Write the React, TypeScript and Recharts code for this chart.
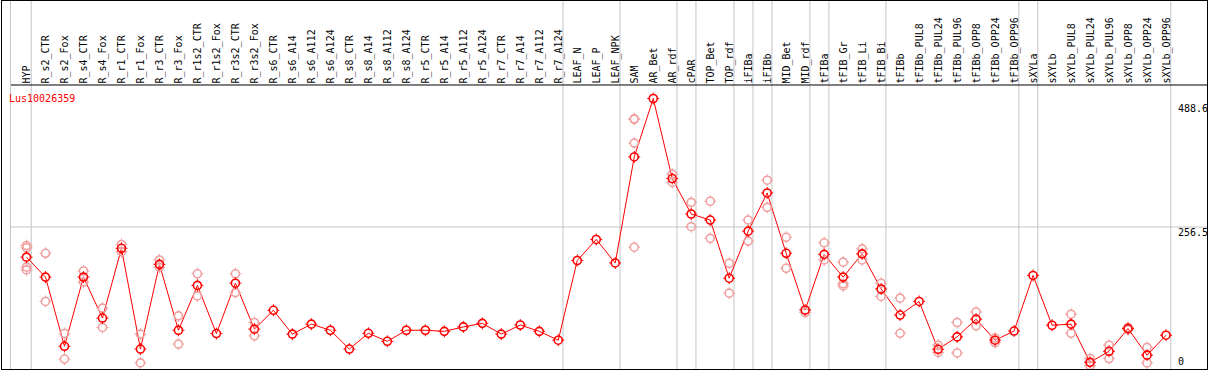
import React from 'react';
import { ComposedChart, Line, XAxis, YAxis, ReferenceLine } from 'recharts';

// tissue / condition labels, left to right
const categories = [
  'HYP', 'R_s2_CTR', 'R_s2_Fox', 'R_s4_CTR', 'R_s4_Fox', 'R_r1_CTR', 'R_r1_Fox', 'R_r3_CTR', 'R_r3_Fox',
  'R_r1s2_CTR', 'R_r1s2_Fox', 'R_r3s2_CTR', 'R_r3s2_Fox', 'R_s6_CTR', 'R_s6_A14', 'R_s6_A112', 'R_s6_A124',
  'R_s8_CTR', 'R_s8_A14', 'R_s8_A112', 'R_s8_A124', 'R_r5_CTR', 'R_r5_A14', 'R_r5_A112', 'R_r5_A124',
  'R_r7_CTR', 'R_r7_A14', 'R_r7_A112', 'R_r7_A124', 'LEAF_N', 'LEAF_P', 'LEAF_NPK', 'SAM', 'AR_Bet', 'AR_rdf',
  'cPAR', 'TOP_Bet', 'TOP_rdf', 'iFIBa', 'iFIBb', 'MID_Bet', 'MID_rdf', 'tFIBa', 'tFIB_Gr', 'tFIB_Li', 'tFIB_Bi',
  'tFIBb', 'tFIBb_PUL8', 'tFIBb_PUL24', 'tFIBb_PUL96', 'tFIBb_OPP8', 'tFIBb_OPP24', 'tFIBb_OPP96', 'sXYLa',
  'sXYLb', 'sXYLb_PUL8', 'sXYLb_PUL24', 'sXYLb_PUL96', 'sXYLb_OPP8', 'sXYLb_OPP24', 'sXYLb_OPP96',
];

// mean expression per sample
const meanValues = [
  202, 166, 41, 166, 92, 218, 36, 189, 70, 151, 64, 155, 72, 106, 63, 81, 70,
  36, 64.5, 50, 70, 70, 68, 76, 82.5, 63, 79.5, 68, 52, 196, 234, 191.5, 383, 488.6, 344,
  280, 269, 164, 249, 318, 209, 106.6, 207, 166, 208, 144.5,
  97.5, 122, 35.6, 58, 90, 52, 68.6, 169,
  79, 81, 12, 32, 73, 25, 61,
];

// individual replicates (null = no replicate drawn)
const rep1 = [
  223, 209, 64, 177, 110, 225, 63, 197, 96, 172, null, 172, 84, null, null, null, null,
  null, null, null, null, null, null, null, null, null, null, null, null, null, null, null, 451, null, 352,
  301, 303, 191, 269, 341, 238, 102, 228, 193, 217, 155,
  128, null, 43, 84, 103, 56, null, null,
  null, 99, 19, 43, 75, 39, null,
];
const rep2 = [
  219, 122, 18, 157, 75, 212, 11, 184, 45, 132, null, 138, 60, null, null, null, null,
  null, null, null, null, null, null, null, null, null, null, null, null, null, null, null, 408, null, 337,
  257, 236, 137, 231, 292, 182, null, 197, 154, 197, 131,
  64.5, null, 30, 29, 78, 47.5, null, null,
  null, 64.5, 6, 19, 71, 11, null,
];
const rep3 = [
  184, null, null, null, null, null, null, null, null, null, null, null, null, null, null, null, null,
  null, null, null, null, null, null, null, null, null, null, null, null, null, null, null, 220, null, null,
  null, null, null, null, null, null, null, null, 150, null, null,
  null, null, null, null, null, null, null, null,
  null, null, null, null, null, null, null,
];
const rep4 = [
  179, null, null, null, null, null, null, null, null, null, null, null, null, null, null, null, null,
  null, null, null, null, null, null, null, null, null, null, null, null, null, null, null, 452, null, null,
  null, null, null, null, null, null, null, null, null, null, null,
  null, null, null, null, null, null, null, null,
  null, null, null, null, null, null, null,
];

const yTicks = [0, 256.5, 488.6];
// group separators, in sample positions (1 = HYP); the leftmost one is the left axis line
const groupBreaks = [1.25, 29.25, 32.25, 35.25, 36.25, 38.25, 39.25, 40.25, 42.25, 43.25, 46.25, 53.25, 54.25, 61.25];
const Y_TOP = 664.7;

const rows = categories.map((name, i) => ({
  pos: i + 1,
  name,
  mean: meanValues[i],
  r1: rep1[i],
  r2: rep2[i],
  r3: rep3[i],
  r4: rep4[i],
}));

const MONO = '"DejaVu Sans Mono", monospace';
const RED = '#ff0000';
const PINK = '#f0a0a0';
const GRID = '#c4c4c4';

const Marker = ({ cx, cy, value, color }: any) => {
  if (value == null || cx == null || cy == null) return null;
  const d = `M${cx},${cy - 6}v2M${cx},${cy + 4}v2M${cx - 6},${cy}h2M${cx + 4},${cy}h2`;
  return (
    <g>
      <circle cx={cx} cy={cy} r={4} fill="none" stroke={color} strokeWidth={1.6} />
      <path d={d} stroke={color} strokeWidth={1} />
    </g>
  );
};

const CategoryTick = ({ x, payload }: any) => {
  const tx = x + 3.5;
  const ty = 83.5;
  return (
    <text x={tx} y={ty} transform={`rotate(-90 ${tx} ${ty})`} fontSize={10} fontFamily={MONO} fill="#000">
      {categories[payload.value - 1]}
    </text>
  );
};

const labelShift: Record<string, number> = { '0': -4, '256.5': 9, '488.6': 14 };

const ValueTick = ({ y, payload }: any) => (
  <text x={1178} y={y + (labelShift[String(payload.value)] ?? 0)} fontSize={10} fontFamily={MONO} fill="#000">
    {payload.value}
  </text>
);

const repKeys = ['r1', 'r2', 'r3', 'r4'];

export default function App() {
  return (
    <div style={{ position: 'absolute', left: 0, top: 0, width: 1209, height: 370, background: '#fff' }}>
      <ComposedChart width={1209} height={370} data={rows} margin={{ top: 0, right: 0, bottom: 1, left: 0 }}>
        <XAxis
          dataKey="pos"
          type="number"
          orientation="top"
          height={1}
          domain={[1 - 16 / 19, 1 + 1182 / 19]}
          allowDataOverflow
          ticks={rows.map(r => r.pos)}
          interval={0}
          axisLine={false}
          tickLine={false}
          tick={<CategoryTick />}
        />
        <YAxis
          yAxisId="left"
          orientation="left"
          width={10.5}
          domain={[0, Y_TOP]}
          allowDataOverflow
          tick={false}
          tickLine={false}
          axisLine={{ stroke: GRID, strokeWidth: 1 }}
        />
        <YAxis
          orientation="right"
          width={1}
          domain={[0, Y_TOP]}
          allowDataOverflow
          ticks={yTicks}
          interval={0}
          axisLine={false}
          tickLine={false}
          tick={<ValueTick />}
        />
        {groupBreaks.map(b => (
          <ReferenceLine key={`sep-${b}`} x={b} stroke={GRID} strokeWidth={1} ifOverflow="visible" />
        ))}
        <ReferenceLine y={256.5} stroke={GRID} strokeWidth={1} />
        <ReferenceLine y={513} stroke="#000" strokeWidth={1} />
        {repKeys.map(k => (
          <Line
            key={k}
            dataKey={k}
            stroke="none"
            isAnimationActive={false}
            dot={(p: any) => <Marker key={`${k}-${p.index}`} {...p} color={PINK} />}
            activeDot={false}
          />
        ))}
        <Line
          dataKey="mean"
          stroke={RED}
          strokeWidth={1}
          isAnimationActive={false}
          dot={(p: any) => <Marker key={`m-${p.index}`} {...p} color={RED} />}
          activeDot={false}
        />
      </ComposedChart>
      <svg width={1209} height={370} style={{ position: 'absolute', left: 0, top: 0, pointerEvents: 'none' }}>
        <line x1={10.5} y1={0} x2={10.5} y2={369} stroke={GRID} strokeWidth={1} />
        <rect x={1.5} y={0.5} width={1206} height={369} fill="none" stroke="#000" strokeWidth={1} />
        <text x={9} y={101.5} fontSize={10} fontFamily={MONO} fill={RED}>
          Lus10026359
        </text>
      </svg>
    </div>
  );
}
